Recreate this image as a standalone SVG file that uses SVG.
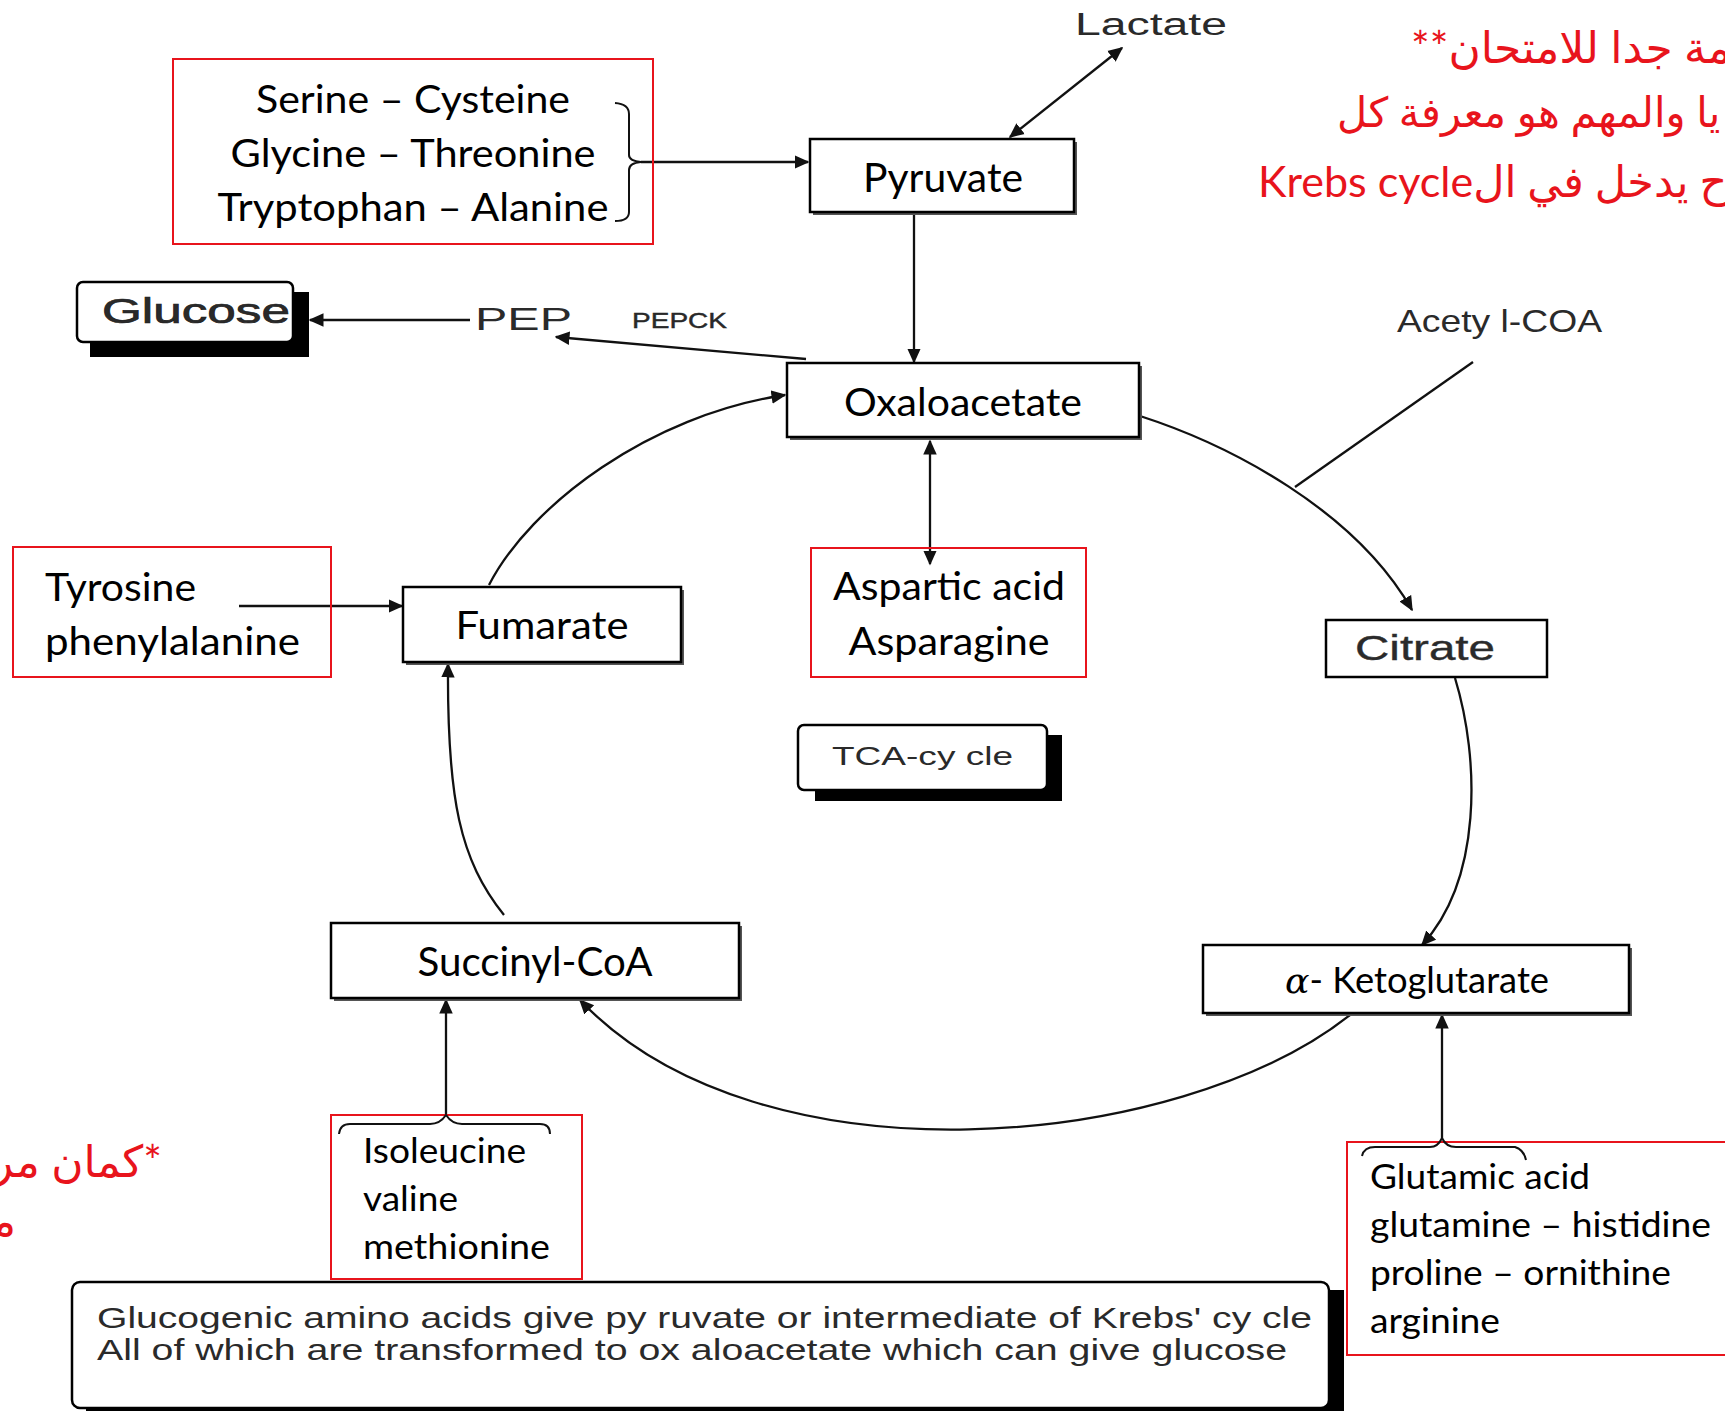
<svg xmlns="http://www.w3.org/2000/svg" width="1725" height="1411" viewBox="0 0 1725 1411">
<defs>
<style>
.box{fill:#fff;stroke:#000;stroke-width:2.5}
.shd{fill:#555}
.red{fill:none;stroke:#e8141c;stroke-width:2}
.cal{font-family:Lato,"Open Sans",sans-serif;fill:#000}
.ari{font-family:"Liberation Sans",Arial,sans-serif;fill:#2a2a2a}
.ar{font-family:Lato,"DejaVu Sans",sans-serif;fill:#e8141c}
.ln{fill:none;stroke:#111;stroke-width:2.3}
.br{fill:none;stroke:#111;stroke-width:2}
</style>
<marker id="ah" viewBox="0 0 10 10" refX="9" refY="5" markerWidth="15" markerHeight="15" markerUnits="userSpaceOnUse" orient="auto-start-reverse">
<path d="M0,0.5 L10,5 L0,9.5 z" fill="#111"/>
</marker>
</defs>
<rect width="1725" height="1411" fill="#fff"/>

<g id="connectors">
<path class="ln" d="M1010,137 L1122,48" marker-start="url(#ah)" marker-end="url(#ah)"/>
<path class="ln" d="M641,162 L808,162" marker-end="url(#ah)"/>
<path class="ln" d="M914,212 L914,362" marker-end="url(#ah)"/>
<path class="ln" d="M806,359 L556,337" marker-end="url(#ah)"/>
<path class="ln" d="M470,320 L310,320" marker-end="url(#ah)"/>
<path class="ln" d="M489,585 C530,505 650,415 785,395" marker-end="url(#ah)"/>
<path class="ln" d="M1140,416 C1230,445 1355,510 1412,610" marker-end="url(#ah)"/>
<path class="ln" d="M1473,362 L1295,487"/>
<path class="ln" d="M1455,678 C1480,760 1482,880 1422,945" marker-end="url(#ah)"/>
<path class="ln" d="M1350,1015 C1180,1150 760,1190 580,1000" marker-end="url(#ah)"/>
<path class="ln" d="M504,915 C460,860 447,800 448,664" marker-end="url(#ah)"/>
<path class="ln" d="M239,606 L402,606" marker-end="url(#ah)"/>
<path class="ln" d="M930,441 L930,564" marker-start="url(#ah)" marker-end="url(#ah)"/>
<path class="ln" d="M1442,1138 L1442,1015" marker-end="url(#ah)"/>
<path class="ln" d="M446,1115 L446,1000" marker-end="url(#ah)"/>
</g>

<g id="lactate">
<text class="ari" x="1075" y="35" font-size="31" textLength="152" lengthAdjust="spacingAndGlyphs">Lactate</text>
</g>

<g id="pyruvate">
<rect class="shd" x="813" y="142" width="264" height="73"/>
<rect class="box" x="810" y="139" width="264" height="73"/>
<text class="cal" x="943" y="192" font-size="40" text-anchor="middle" textLength="160" lengthAdjust="spacingAndGlyphs">Pyruvate</text>
</g>

<g id="pyruvate-amino-acids">
<rect class="red" x="173" y="59" width="480" height="185"/>
<text class="cal" x="413" y="113" font-size="38" text-anchor="middle" textLength="314" lengthAdjust="spacingAndGlyphs">Serine – Cysteine</text>
<text class="cal" x="413" y="167" font-size="38" text-anchor="middle" textLength="365" lengthAdjust="spacingAndGlyphs">Glycine – Threonine</text>
<text class="cal" x="413" y="221" font-size="38" text-anchor="middle" textLength="391" lengthAdjust="spacingAndGlyphs">Tryptophan – Alanine</text>
<path class="br" d="M615,103 Q629,104 629,114 L629,155 Q629,161 641,162 Q629,163 629,170 L629,212 Q629,221 615,221"/>
</g>

<g id="glucose">
<rect x="90" y="292" width="219" height="65" fill="#000"/>
<rect class="box" x="77" y="282" width="216" height="60" rx="6"/>
<text class="ari" x="102" y="323" font-size="35" stroke="#222" stroke-width="0.7" textLength="188" lengthAdjust="spacingAndGlyphs">Glucose</text>
</g>

<g id="pep">
<text class="ari" x="475" y="330" font-size="32" textLength="97" lengthAdjust="spacingAndGlyphs">PEP</text>
</g>

<g id="pepck">
<text class="ari" x="632" y="328" font-size="22" stroke="#222" stroke-width="0.4" textLength="95" lengthAdjust="spacingAndGlyphs">PEPCK</text>
</g>

<g id="oxaloacetate">
<rect class="shd" x="790" y="366" width="352" height="74"/>
<rect class="box" x="787" y="363" width="352" height="74"/>
<text class="cal" x="963" y="416" font-size="39" text-anchor="middle" textLength="238" lengthAdjust="spacingAndGlyphs">Oxaloacetate</text>
</g>

<g id="acetyl-coa">
<text class="ari" x="1397" y="332" font-size="32" fill="#444" textLength="205" lengthAdjust="spacingAndGlyphs">Acety l-COA</text>
</g>

<g id="citrate">
<rect class="box" x="1326" y="620" width="221" height="57" stroke-width="3.5"/>
<text class="ari" x="1355" y="660" font-size="35" stroke="#333" stroke-width="0.4" fill="#333" textLength="140" lengthAdjust="spacingAndGlyphs">Citrate</text>
</g>

<g id="alpha-ketoglutarate">
<rect class="shd" x="1206" y="948" width="426" height="68"/>
<rect class="box" x="1203" y="945" width="426" height="68"/>
<text class="cal" x="1285" y="993" font-size="36" textLength="264" lengthAdjust="spacingAndGlyphs"><tspan font-family="'DejaVu Serif','Liberation Serif',serif" font-style="italic">α</tspan>- Ketoglutarate</text>
</g>

<g id="ketoglutarate-amino-acids">
<rect class="red" x="1347" y="1142" width="400" height="213"/>
<path class="br" d="M1362,1156 Q1364,1147 1375,1147 L1430,1147 Q1438,1147 1442,1138 Q1446,1147 1456,1147 L1515,1147 Q1524,1150 1526,1160"/>
<text class="cal" x="1370" y="1189" font-size="35" textLength="220" lengthAdjust="spacingAndGlyphs">Glutamic acid</text>
<text class="cal" x="1370" y="1237" font-size="35" textLength="341" lengthAdjust="spacingAndGlyphs">glutamine – histidine</text>
<text class="cal" x="1370" y="1285" font-size="35" textLength="301" lengthAdjust="spacingAndGlyphs">proline – ornithine</text>
<text class="cal" x="1370" y="1333" font-size="35" textLength="130" lengthAdjust="spacingAndGlyphs">arginine</text>
</g>

<g id="succinyl-coa">
<rect class="shd" x="334" y="926" width="408" height="75"/>
<rect class="box" x="331" y="923" width="408" height="75"/>
<text class="cal" x="535" y="976" font-size="40" text-anchor="middle" textLength="235" lengthAdjust="spacingAndGlyphs">Succinyl-CoA</text>
</g>

<g id="succinyl-amino-acids">
<rect class="red" x="331" y="1115" width="251" height="164"/>
<path class="br" d="M339,1134 Q340,1124 350,1124 L430,1124 Q440,1124 446,1115 Q452,1124 462,1124 L540,1124 Q550,1124 550,1134"/>
<text class="cal" x="363" y="1163" font-size="35" textLength="163" lengthAdjust="spacingAndGlyphs">Isoleucine</text>
<text class="cal" x="363" y="1211" font-size="35" textLength="95" lengthAdjust="spacingAndGlyphs">valine</text>
<text class="cal" x="363" y="1259" font-size="35" textLength="187" lengthAdjust="spacingAndGlyphs">methionine</text>
</g>

<g id="fumarate">
<rect class="shd" x="406" y="590" width="278" height="75"/>
<rect class="box" x="403" y="587" width="278" height="75"/>
<text class="cal" x="542" y="639" font-size="38" text-anchor="middle" textLength="173" lengthAdjust="spacingAndGlyphs">Fumarate</text>
</g>

<g id="fumarate-amino-acids">
<rect class="red" x="13" y="547" width="318" height="130"/>
<text class="cal" x="45" y="601" font-size="38" textLength="151" lengthAdjust="spacingAndGlyphs">Tyrosine</text>
<text class="cal" x="45" y="655" font-size="38" textLength="255" lengthAdjust="spacingAndGlyphs">phenylalanine</text>
</g>

<g id="oxaloacetate-amino-acids">
<rect class="red" x="811" y="548" width="275" height="129"/>
<text class="cal" x="949" y="600" font-size="38" text-anchor="middle" textLength="232" lengthAdjust="spacingAndGlyphs">Aspartic acid</text>
<text class="cal" x="949" y="655" font-size="38" text-anchor="middle" textLength="201" lengthAdjust="spacingAndGlyphs">Asparagine</text>
</g>

<g id="tca-cycle">
<rect x="815" y="735" width="247" height="66" fill="#000"/>
<rect class="box" x="798" y="725" width="249" height="65" rx="6" stroke-width="2"/>
<text class="ari" x="832" y="765" font-size="25" fill="#333" textLength="181" lengthAdjust="spacingAndGlyphs">TCA-cy cle</text>
</g>

<g id="summary-note">
<rect x="86" y="1290" width="1258" height="130" fill="#000"/>
<rect class="box" x="72" y="1282" width="1257" height="126" rx="8"/>
<text class="ari" x="97" y="1328" font-size="30" fill="#333" textLength="1215" lengthAdjust="spacingAndGlyphs">Glucogenic amino acids give py ruvate or intermediate of Krebs' cy cle</text>
<text class="ari" x="97" y="1360" font-size="30" fill="#333" textLength="1190" lengthAdjust="spacingAndGlyphs">All of which are transformed to ox aloacetate which can give glucose</text>
</g>

<g id="arabic-note-top">
<text class="ar" x="1411" y="63" font-size="44" direction="rtl" text-anchor="end">همة جدا للامتحان**</text>
<text class="ar" x="1337" y="127" font-size="41.5" direction="rtl" text-anchor="end">يا والمهم هو معرفة كل</text>
<text class="ar" x="1258" y="197" font-size="43" direction="rtl" text-anchor="end">راح يدخل في الKrebs cycle</text>
</g>

<g id="arabic-note-bottom">
<text class="ar" x="162" y="1177" font-size="44" direction="rtl" text-anchor="start">*كمان مرة</text>
<text class="ar" x="16" y="1236" font-size="44" direction="rtl" text-anchor="start">مهم</text>
</g>
</svg>
